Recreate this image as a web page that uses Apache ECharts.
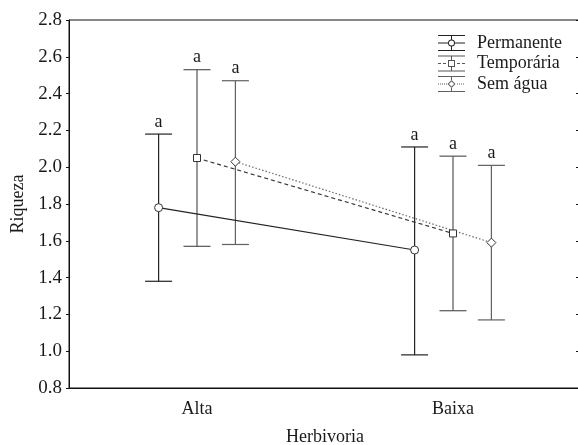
<!DOCTYPE html>
<html>
<head>
<meta charset="utf-8">
<script src="https://cdn.jsdelivr.net/npm/echarts@6/dist/echarts.min.js"></script>
<style>html,body{margin:0;padding:0;background:#fff}#c{width:578px;height:445px}</style>
</head>
<body>
<div id="c"></div>
<script>
// ---- data ----
var categories = ['Alta', 'Baixa'];
var seriesNames = ['Permanente', 'Temporária', 'Sem água'];
var permanenteMean = [1.78, 1.55];
var permanenteUpper = [2.18, 2.11];
var permanenteLower = [1.38, 0.98];
var temporariaMean = [2.05, 1.64];
var temporariaUpper = [2.53, 2.06];
var temporariaLower = [1.57, 1.22];
var semAguaMean = [2.03, 1.59];
var semAguaUpper = [2.47, 2.01];
var semAguaLower = [1.58, 1.17];
var permanenteLetters = ['a', 'a'];
var temporariaLetters = ['a', 'a'];
var semAguaLetters = ['a', 'a'];
var yTickMin = 0.8, yTickMax = 2.8, yTickStep = 0.2;

// ---- styles ----
var FONT = 'Liberation Serif';
var OFFSETS = [-0.15, 0, 0.15];
var COLORS = ['#222222', '#3a3a3a', '#6a6a6a'];
var BAR_COLORS = ['#222222', '#555555', '#606060'];
var LINE_TYPES = ['solid', [4, 3], [1.5, 2]];
var SYMBOLS = ['circle', 'rect', 'diamond'];
var SYMBOL_SIZES = [8, 7, 9];

var means = [permanenteMean, temporariaMean, semAguaMean];
var uppers = [permanenteUpper, temporariaUpper, semAguaUpper];
var lowers = [permanenteLower, temporariaLower, semAguaLower];
var letters = [permanenteLetters, temporariaLetters, semAguaLetters];

function rect(x0, y0, x1, y1) {
  return 'M' + x0 + ' ' + y0 + 'H' + x1 + 'V' + y1 + 'H' + x0 + 'Z';
}
var capsAndStem = function (gapTop, gapBot) {
  return rect(0, 0, 27, 1) + rect(0, 15, 27, 16) + rect(13, 1, 14, gapTop) + rect(13, gapBot, 14, 15);
};
var iconPerm = 'path://' + capsAndStem(4.5, 11.5) + rect(0, 7.5, 10, 8.5) + rect(17, 7.5, 27, 8.5) +
  'M10 8A3.5 3.5 0 1 1 17 8A3.5 3.5 0 1 1 10 8Z' +
  'M11 8A2.5 2.5 0 1 0 16 8A2.5 2.5 0 1 0 11 8Z';
var iconTemp = 'path://' + capsAndStem(4.5, 11.5) + rect(0, 7.5, 3, 8.5) + rect(5, 7.5, 8, 8.5) +
  rect(19, 7.5, 22, 8.5) + rect(24, 7.5, 27, 8.5) +
  'M10 4.5H17V11.5H10Z' + 'M11 5.5V10.5H16V5.5Z';
var dots = '';
[0, 2, 4, 6, 8, 19, 21, 23, 25].forEach(function (x) { dots += rect(x, 7.5, x + 1, 8.5); });
var iconSem = 'path://' + capsAndStem(4, 12) + dots +
  'M13.5 4L17.5 8L13.5 12L9.5 8Z' + 'M13.5 5.4L10.9 8L13.5 10.6L16.1 8Z';
var ICONS = [iconPerm, iconTemp, iconSem];

var series = [];
seriesNames.forEach(function (name, s) {
  var errData = categories.map(function (c, i) {
    return [i + OFFSETS[s], lowers[s][i], uppers[s][i]];
  });
  series.push({
    name: name,
    type: 'custom',
    xAxisIndex: 1,
    yAxisIndex: 0,
    z: 2,
    silent: true,
    data: errData,
    encode: { x: 0, y: [1, 2] },
    renderItem: (function (sIdx) {
      return function (params, api) {
        var x = api.value(0);
        var lo = api.coord([x, api.value(1)]);
        var hi = api.coord([x, api.value(2)]);
        var hw = 13.5;
        var st = { stroke: BAR_COLORS[sIdx], lineWidth: 1.2 };
        return {
          type: 'group',
          children: [
            { type: 'line', shape: { x1: hi[0], y1: hi[1], x2: lo[0], y2: lo[1] }, style: st },
            { type: 'line', shape: { x1: hi[0] - hw, y1: hi[1], x2: hi[0] + hw, y2: hi[1] }, style: st },
            { type: 'line', shape: { x1: lo[0] - hw, y1: lo[1], x2: lo[0] + hw, y2: lo[1] }, style: st },
            { type: 'text', style: { text: letters[sIdx][params.dataIndex], x: hi[0], y: hi[1] - 3,
              align: 'center', verticalAlign: 'bottom', fill: '#1a1a1a',
              font: '18px "' + FONT + '"' } }
          ]
        };
      };
    })(s)
  });
  series.push({
    name: name,
    type: 'line',
    xAxisIndex: 1,
    yAxisIndex: 0,
    z: 3,
    data: categories.map(function (c, i) { return [i + OFFSETS[s], means[s][i]]; }),
    symbol: SYMBOLS[s],
    symbolSize: SYMBOL_SIZES[s],
    showSymbol: true,
    lineStyle: { color: COLORS[s], width: 1.2, type: LINE_TYPES[s] },
    itemStyle: { color: '#ffffff', borderColor: '#333', borderWidth: 1 },
    emphasis: { disabled: true }
  });
});

var axisLabelStyle = { fontFamily: FONT, fontSize: 18, color: '#1a1a1a' };

var option = {
  animation: false,
  backgroundColor: '#fff',
  grid: { left: 69, right: -3, top: 20, bottom: 57, containLabel: false, outerBoundsMode: 'none',
    show: true, borderColor: '#111', borderWidth: 1, backgroundColor: 'transparent' },
  legend: {
    orient: 'vertical',
    left: 438,
    top: 34,
    padding: 0,
    itemGap: 2.5,
    itemWidth: 27,
    itemHeight: 16,
    selectedMode: false,
    textStyle: { fontFamily: FONT, fontSize: 18, color: '#1a1a1a', padding: [0, 0, 0, 7] },
    data: seriesNames.map(function (n, s) {
      return { name: n, icon: ICONS[s], itemStyle: { color: BAR_COLORS[s], borderWidth: 0 } };
    })
  },
  xAxis: [
    {
      type: 'category',
      data: categories,
      boundaryGap: true,
      name: 'Herbivoria',
      nameLocation: 'middle',
      nameGap: 40,
      nameTextStyle: axisLabelStyle,
      axisLine: { onZero: false, lineStyle: { color: '#111', width: 1 } },
      axisTick: { alignWithLabel: true, inside: true, length: 3, lineStyle: { color: '#111' } },
      axisLabel: Object.assign({ margin: 12 }, axisLabelStyle),
      splitLine: { show: false }
    },
    {
      type: 'value',
      min: -0.5,
      max: 1.5,
      show: false,
      axisLine: { onZero: false },
      splitLine: { show: false }
    }
  ],
  yAxis: [
    {
      type: 'value',
      min: yTickMin,
      max: yTickMax,
      interval: yTickStep,
      name: 'Riqueza',
      nameLocation: 'middle',
      nameRotate: 90,
      nameGap: 37,
      nameTextStyle: axisLabelStyle,
      axisLine: { show: true, onZero: false, lineStyle: { color: '#111', width: 1 } },
      axisTick: { show: true, inside: false, length: 3, lineStyle: { color: '#111' } },
      axisLabel: Object.assign({ margin: 7, formatter: function (v) { return v.toFixed(1); } },
        axisLabelStyle, { fontSize: 19 }),
      splitLine: { show: false }
    },
    {
      type: 'value',
      position: 'right',
      min: yTickMin,
      max: yTickMax,
      interval: yTickStep,
      axisLine: { show: true, onZero: false, lineStyle: { color: '#111', width: 1 } },
      axisTick: { show: true, inside: true, length: 5, lineStyle: { color: '#111' } },
      axisLabel: { show: false },
      splitLine: { show: false }
    }
  ],
  series: series
};

var chart = echarts.init(document.getElementById('c'), null, { renderer: 'canvas' });
chart.setOption(option);
</script>
</body>
</html>
